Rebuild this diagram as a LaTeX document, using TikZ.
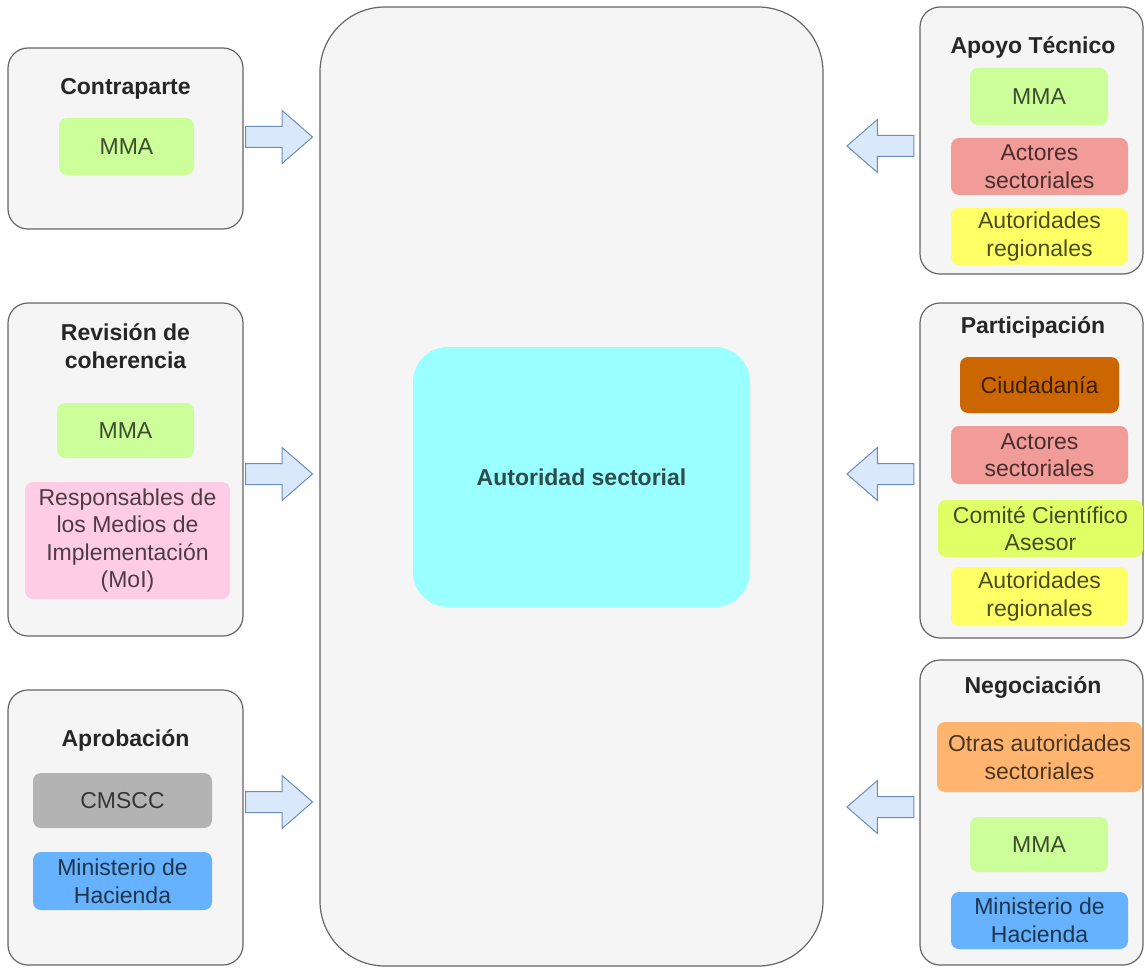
\documentclass[tikz,border=0pt]{standalone}
\usepackage{fontspec}
\setmainfont{Liberation Sans}
\usetikzlibrary{shapes.arrows}
\definecolor{panelfill}{HTML}{F5F5F5}
\definecolor{panelstroke}{HTML}{666666}
\definecolor{titletext}{HTML}{262626}
\definecolor{mmagreen}{HTML}{CCFF99}
\definecolor{moipink}{HTML}{FFCCE6}
\definecolor{cmsccgray}{HTML}{B3B3B3}
\definecolor{haciendablue}{HTML}{66B2FF}
\definecolor{actorred}{HTML}{F19C99}
\definecolor{regyellow}{HTML}{FFFF66}
\definecolor{ciudorange}{HTML}{CC6600}
\definecolor{comitelime}{HTML}{E0FF66}
\definecolor{otrasorange}{HTML}{FFB570}
\definecolor{autcyan}{HTML}{99FFFF}
\definecolor{arrowfill}{HTML}{DAE8FC}
\definecolor{arrowstroke}{HTML}{6C8EBF}
\tikzset{
  panel/.style={draw=panelstroke, fill=panelfill, line width=1.2pt, rounded corners=20pt, inner sep=0pt},
  bigpanel/.style={draw=panelstroke, fill=panelfill, line width=1.2pt, rounded corners=65pt, inner sep=0pt},
  titlelabel/.style={text=titletext, font=\fontsize{23}{27.6}\selectfont\bfseries, align=center, inner sep=0pt},
  inbox/.style={fill=#1, draw=none, text=#1!30!black, rounded corners=8pt, inner sep=0pt, align=center, font=\fontsize{23}{27.6}\selectfont},
  blockarrow/.style={single arrow, draw=arrowstroke, fill=arrowfill, line width=1pt, inner xsep=0pt, inner ysep=10pt,
    minimum height=67pt, single arrow head extend=16pt, single arrow tip angle=82},
}
\begin{document}
\begin{tikzpicture}[x=1pt,y=-1pt]
\useasboundingbox[fill=white] (0,0) rectangle (1145,968);

% central panel
\node[bigpanel, minimum width=503pt, minimum height=959pt] (center) at (571.5,486.5) {};
\node[inbox=autcyan, rounded corners=35pt, minimum width=337pt, minimum height=260pt, font=\fontsize{23}{27.6}\selectfont\bfseries] (auth) at (581.5,477) {Autoridad sectorial};

% left: Contraparte
\node[panel, minimum width=235pt, minimum height=181pt] (contra) at (125.5,138.5) {};
\node[titlelabel] (contraT) at (125.5,89) {Contraparte};
\node[inbox=mmagreen, minimum width=135pt, minimum height=57pt] (contraMMA) at (126.5,146.5) {MMA};

% left: Revision de coherencia
\node[panel, minimum width=235pt, minimum height=333pt] (rev) at (125.5,469.5) {};
\node[titlelabel] (revT) at (125.5,346) {Revisión de\\coherencia};
\node[inbox=mmagreen, minimum width=137pt, minimum height=55pt] (revMMA) at (125.5,430.5) {MMA};
\node[inbox=moipink, minimum width=205pt, minimum height=117pt] (revMoI) at (127.5,540.5) {Responsables de\\los Medios de\\Implementación\\(MoI)};

% left: Aprobacion
\node[panel, minimum width=235pt, minimum height=275pt] (apro) at (125.5,827.5) {};
\node[titlelabel] (aproT) at (125.5,740) {Aprobación};
\node[inbox=cmsccgray, minimum width=179pt, minimum height=55pt] (aproC) at (122.5,800.5) {CMSCC};
\node[inbox=haciendablue, minimum width=179pt, minimum height=58pt] (aproH) at (122.5,881) {Ministerio de\\Hacienda};

% right: Apoyo Tecnico
\node[panel, minimum width=223pt, minimum height=267pt] (apoyo) at (1031.5,140.5) {};
\node[titlelabel] (apoyoT) at (1033,47) {Apoyo Técnico};
\node[inbox=mmagreen, minimum width=138pt, minimum height=57pt] (apoyoMMA) at (1039,96.5) {MMA};
\node[inbox=actorred, minimum width=177pt, minimum height=57pt] (apoyoAct) at (1039.5,166.5) {Actores\\sectoriales};
\node[inbox=regyellow, minimum width=177pt, minimum height=57pt] (apoyoReg) at (1039.5,236.5) {Autoridades\\regionales};

% right: Participacion
\node[panel, minimum width=223pt, minimum height=335pt] (part) at (1031.5,470.5) {};
\node[titlelabel] (partT) at (1033,327) {Participación};
\node[inbox=ciudorange, minimum width=159pt, minimum height=56pt] (partCiu) at (1039.5,385) {Ciudadanía};
\node[inbox=actorred, minimum width=177pt, minimum height=58pt] (partAct) at (1039.5,455) {Actores\\sectoriales};
\node[inbox=comitelime, minimum width=205pt, minimum height=57pt] (partCom) at (1040.5,528.5) {Comité Científico\\Asesor};
\node[inbox=regyellow, minimum width=177pt, minimum height=59pt] (partReg) at (1039.5,596.5) {Autoridades\\regionales};

% right: Negociacion
\node[panel, minimum width=223pt, minimum height=305pt] (neg) at (1031.5,812.5) {};
\node[titlelabel] (negT) at (1033,687) {Negociación};
\node[inbox=otrasorange, minimum width=205pt, minimum height=70pt] (negOtr) at (1039.5,757) {Otras autoridades\\sectoriales};
\node[inbox=mmagreen, minimum width=138pt, minimum height=55pt] (negMMA) at (1039,844.5) {MMA};
\node[inbox=haciendablue, minimum width=177pt, minimum height=57pt] (negH) at (1039.5,920.5) {Ministerio de\\Hacienda};

% block arrows
\node[blockarrow] (arrL1) at (273,137) {};
\node[blockarrow] (arrL2) at (273,474) {};
\node[blockarrow] (arrL3) at (273,802) {};
\node[blockarrow, shape border rotate=180] (arrR1) at (886.5,146) {};
\node[blockarrow, shape border rotate=180] (arrR2) at (886.5,474) {};
\node[blockarrow, shape border rotate=180] (arrR3) at (886.5,807) {};
\end{tikzpicture}
\end{document}
